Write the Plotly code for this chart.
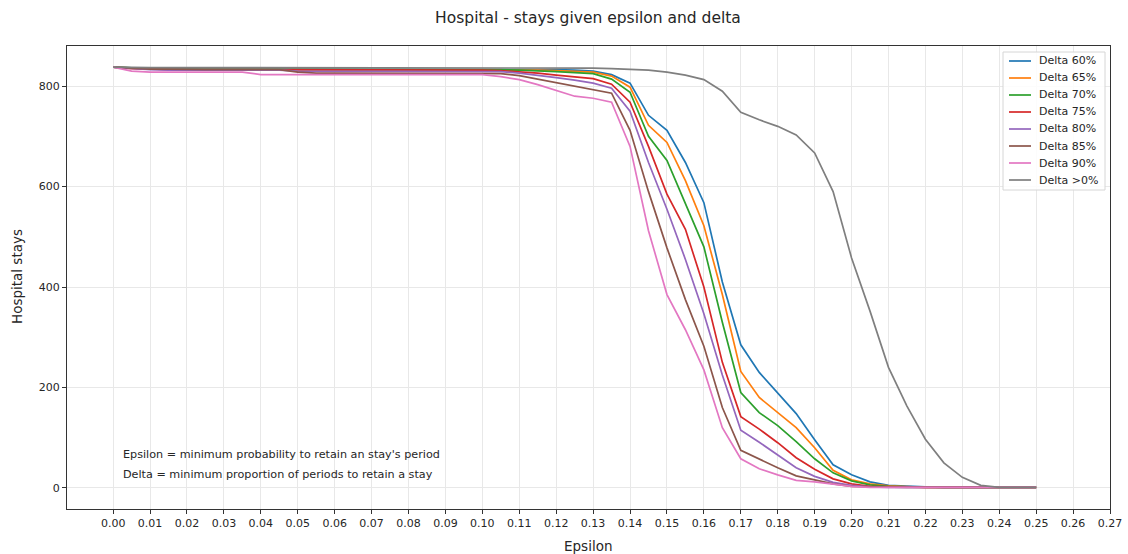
import plotly.graph_objects as go

# Epsilon grid (x axis)
epsilon = [0.000, 0.005, 0.010, 0.015, 0.020, 0.025, 0.030, 0.035, 0.040, 0.045,
           0.050, 0.055, 0.060, 0.065, 0.070, 0.075, 0.080, 0.085, 0.090, 0.095,
           0.100, 0.105, 0.110, 0.115, 0.120, 0.125, 0.130, 0.135, 0.140, 0.145,
           0.150, 0.155, 0.160, 0.165, 0.170, 0.175, 0.180, 0.185, 0.190, 0.195,
           0.200, 0.205, 0.210, 0.215, 0.220, 0.225, 0.230, 0.235, 0.240, 0.245,
           0.250]

# Hospital stays retained for each delta threshold
delta_60 = [838, 836, 835, 835, 834, 834, 834, 834, 834, 834,
            834, 834, 834, 834, 834, 834, 834, 834, 834, 834,
            834, 834, 833, 833, 833, 832, 830, 823, 806, 742,
            712, 648, 568, 410, 285, 230, 188, 148, 96, 46,
            26, 12, 5, 3, 2, 1, 1, 1, 1, 1,
            1]
delta_65 = [838, 836, 834, 833, 833, 833, 833, 833, 833, 833,
            833, 833, 833, 833, 833, 833, 833, 833, 833, 833,
            833, 833, 833, 832, 831, 830, 828, 820, 798, 722,
            688, 612, 522, 385, 232, 180, 150, 120, 80, 35,
            16, 8, 4, 2, 1, 1, 1, 1, 1, 1,
            1]
delta_70 = [838, 836, 835, 834, 834, 834, 834, 834, 834, 834,
            834, 834, 834, 834, 834, 834, 834, 834, 834, 834,
            834, 833, 832, 831, 829, 827, 825, 814, 788, 700,
            652, 566, 480, 330, 190, 150, 124, 92, 58, 30,
            14, 6, 3, 2, 1, 1, 1, 1, 1, 1,
            1]
delta_75 = [838, 835, 834, 833, 833, 833, 833, 833, 833, 833,
            833, 833, 833, 832, 832, 832, 832, 832, 832, 832,
            832, 831, 829, 826, 822, 818, 815, 804, 768, 680,
            585, 515, 400, 250, 142, 117, 90, 60, 37, 18,
            8, 3, 2, 1, 1, 1, 1, 1, 1, 1,
            1]
delta_80 = [838, 835, 833, 832, 832, 832, 832, 832, 832, 832,
            830, 830, 830, 830, 830, 830, 830, 830, 830, 830,
            830, 829, 826, 822, 817, 812, 806, 796, 750, 648,
            555, 455, 347, 225, 115, 91, 65, 40, 23, 11,
            5, 2, 1, 1, 1, 1, 1, 1, 1, 1,
            1]
delta_85 = [838, 836, 834, 834, 833, 833, 833, 833, 833, 833,
            828, 826, 826, 826, 826, 826, 826, 826, 826, 826,
            826, 825, 821, 814, 807, 801, 793, 786, 712, 590,
            478, 375, 282, 160, 75, 57, 40, 24, 16, 8,
            3, 2, 1, 1, 1, 1, 1, 1, 1, 1,
            1]
delta_90 = [838, 830, 828, 828, 828, 828, 828, 828, 823, 823,
            823, 823, 823, 823, 823, 823, 823, 823, 823, 823,
            823, 819, 813, 803, 791, 780, 776, 768, 680, 512,
            385, 315, 235, 120, 58, 38, 26, 15, 12, 8,
            3, 1, 1, 1, 1, 1, 1, 1, 1, 1,
            1]
delta_any = [838, 837, 837, 837, 837, 837, 837, 837, 837, 837,
             837, 837, 837, 837, 837, 837, 837, 837, 837, 837,
             837, 836, 836, 836, 836, 836, 836, 835, 834, 832,
             828, 822, 813, 790, 748, 733, 720, 703, 667, 590,
             458, 352, 240, 163, 97, 50, 21, 5, 1, 1,
             1]

series_names = ["Delta 60%", "Delta 65%", "Delta 70%", "Delta 75%",
                "Delta 80%", "Delta 85%", "Delta 90%", "Delta >0%"]
series_values = [delta_60, delta_65, delta_70, delta_75,
                 delta_80, delta_85, delta_90, delta_any]
colors = ["#1f77b4", "#ff7f0e", "#2ca02c", "#d62728",
          "#9467bd", "#8c564b", "#e377c2", "#7f7f7f"]

x_ticks = [0.00, 0.01, 0.02, 0.03, 0.04, 0.05, 0.06, 0.07, 0.08, 0.09,
           0.10, 0.11, 0.12, 0.13, 0.14, 0.15, 0.16, 0.17, 0.18, 0.19,
           0.20, 0.21, 0.22, 0.23, 0.24, 0.25, 0.26, 0.27]
y_ticks = [0, 200, 400, 600, 800]

notes = ["Epsilon = minimum probability to retain an stay's period",
         "Delta = minimum proportion of periods to retain a stay"]

FONT = "DejaVu Sans"
INK = "#262626"
W, H = 1128, 554
ML, MR, MT, MB = 67, 18, 46, 45
PW, PH = W - ML - MR, H - MT - MB


def px_x(px):
    """Pixel column -> paper x."""
    return (px - ML) / PW


def px_y(py):
    """Pixel row -> paper y."""
    return (H - MB - py) / PH


fig = go.Figure()
for name, vals, col in zip(series_names, series_values, colors):
    fig.add_trace(go.Scatter(
        x=epsilon, y=vals, mode="lines", name=name, showlegend=False,
        line=dict(color=col, width=1.7),
    ))

axis_common = dict(
    showline=True, linecolor="#333333", linewidth=1, mirror=True,
    showgrid=True, gridcolor="#e8e8e8", gridwidth=1,
    zeroline=False, automargin=False,
    ticks="outside", ticklen=4, tickwidth=1, tickcolor="#333333",
    tickfont=dict(family=FONT, size=11, color=INK),
)

fig.update_xaxes(
    range=[-0.0125, 0.27],
    tickvals=x_ticks, ticktext=[f"{t:.2f}" for t in x_ticks],
    **axis_common,
)
fig.update_yaxes(
    range=[-42, 880],
    tickvals=y_ticks, ticktext=[str(t) for t in y_ticks],
    **axis_common,
)

annotations = []
# axis titles
annotations.append(dict(
    x=px_x(588), y=px_y(546), xref="paper", yref="paper", text="Epsilon",
    showarrow=False, xanchor="center", yanchor="middle",
    font=dict(family=FONT, size=13.5, color=INK)))
annotations.append(dict(
    x=px_x(17), y=px_y(277), xref="paper", yref="paper", text="Hospital stays",
    showarrow=False, xanchor="center", yanchor="middle", textangle=-90,
    font=dict(family=FONT, size=13.5, color=INK)))

# explanatory notes inside the plot
for txt, yv in zip(notes, [67, 27]):
    annotations.append(dict(
        x=0.002, y=yv, xref="x", yref="y", text=txt, showarrow=False,
        xanchor="left", yanchor="middle",
        font=dict(family=FONT, size=11.2, color=INK)))

# legend: frame, line samples and labels
shapes = [dict(
    type="rect", xref="paper", yref="paper",
    x0=px_x(1003), x1=px_x(1105), y0=px_y(190), y1=px_y(52),
    line=dict(color="#d6d6d6", width=1), fillcolor="rgba(255,255,255,0.85)",
    layer="above")]
for i, (name, col) in enumerate(zip(series_names, colors)):
    yc = 61 + 17 * i
    shapes.append(dict(
        type="line", xref="paper", yref="paper",
        x0=px_x(1009), x1=px_x(1031), y0=px_y(yc), y1=px_y(yc),
        line=dict(color=col, width=1.7), layer="above"))
    annotations.append(dict(
        x=px_x(1037), y=px_y(yc), xref="paper", yref="paper", text=name,
        showarrow=False, xanchor="left", yanchor="middle",
        font=dict(family=FONT, size=11, color=INK)))

fig.update_layout(
    width=W, height=H,
    margin=dict(l=ML, r=MR, t=MT, b=MB),
    paper_bgcolor="white", plot_bgcolor="white",
    title=dict(text="Hospital - stays given epsilon and delta",
               x=px_x(588), xref="paper", xanchor="center",
               y=1 - 18 / H, yanchor="middle",
               font=dict(family=FONT, size=15.5, color=INK)),
    annotations=annotations,
    shapes=shapes,
    showlegend=False,
)

fig.write_html("out.html")
